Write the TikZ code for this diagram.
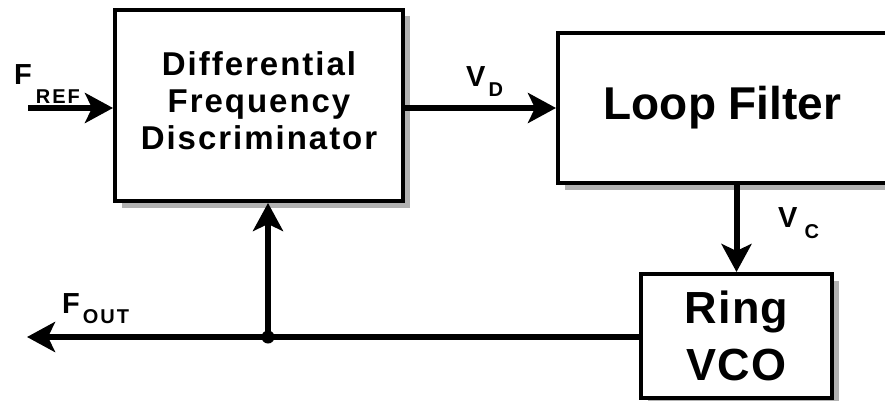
\documentclass[tikz,border=0pt]{standalone}
\usepackage{fontspec}
\setmainfont{Liberation Sans}
\usetikzlibrary{arrows.meta,shadows}
\tikzset{
  x=1pt, y=-1pt,
  blk/.style={draw=black, line width=4pt, fill=white, inner sep=0pt, align=center,
    drop shadow={shadow xshift=6.5pt, shadow yshift=-6.5pt, opacity=1, fill=black!30}},
  sig/.style={line width=6pt, -{Stealth[length=28pt,width=30pt,inset=7pt]}},
  lbl/.style={inner sep=0pt, anchor=base west, font=\bfseries},
  jdot/.style={circle, fill=black, inner sep=0pt, minimum size=13pt}
}
\newcommand\sublbl[4]{{\fontsize{29}{29}\selectfont #1}\kern#4pt\raisebox{-#3pt}{\fontsize{20}{20}\selectfont\addfontfeature{LetterSpace=10}#2}}
\begin{document}
\begin{tikzpicture}
\useasboundingbox (0,0) rectangle (885,401);
\node[blk, minimum width=288pt, minimum height=191pt, text depth=10pt,
  font=\bfseries\fontsize{33}{37}\selectfont\addfontfeature{LetterSpace=6}] (dfd) at (259,105.5)
  {Differential\\Frequency\\Discriminator};
\node[blk, minimum width=329pt, minimum height=150pt,
  font=\bfseries\fontsize{46}{46}\selectfont] (loop) at (722.5,108) {Loop Filter};
\node[blk, minimum width=191pt, minimum height=124pt,
  font=\bfseries\fontsize{45}{57}\selectfont\addfontfeature{LetterSpace=3}] (vco) at (736.5,336) {Ring\\VCO};
\coordinate (fin) at (28,108);
\coordinate (fout) at (27,337);
\coordinate (j) at (268,337);
\draw[sig] (fin) -- (fin -| dfd.west);
\draw[sig] (dfd.east |- loop.west) -- (loop.west);
\draw[sig] (loop.south -| vco.north) -- (vco.north);
\draw[sig] (vco.west |- j) -- (fout);
\draw[sig] (j) -- (j |- dfd.south);
\node[jdot] (jd) at (j) {};
\node[lbl] (lref) at (14,85) {\sublbl{F}{REF}{19}{4}};
\node[lbl] (lvd) at (466,87) {\sublbl{V}{D}{10}{3}};
\node[lbl] (lvc) at (778,227) {\sublbl{V}{C}{11}{7}};
\node[lbl] (lout) at (62,313) {\sublbl{F}{OUT}{10}{3}};
\end{tikzpicture}
\end{document}
